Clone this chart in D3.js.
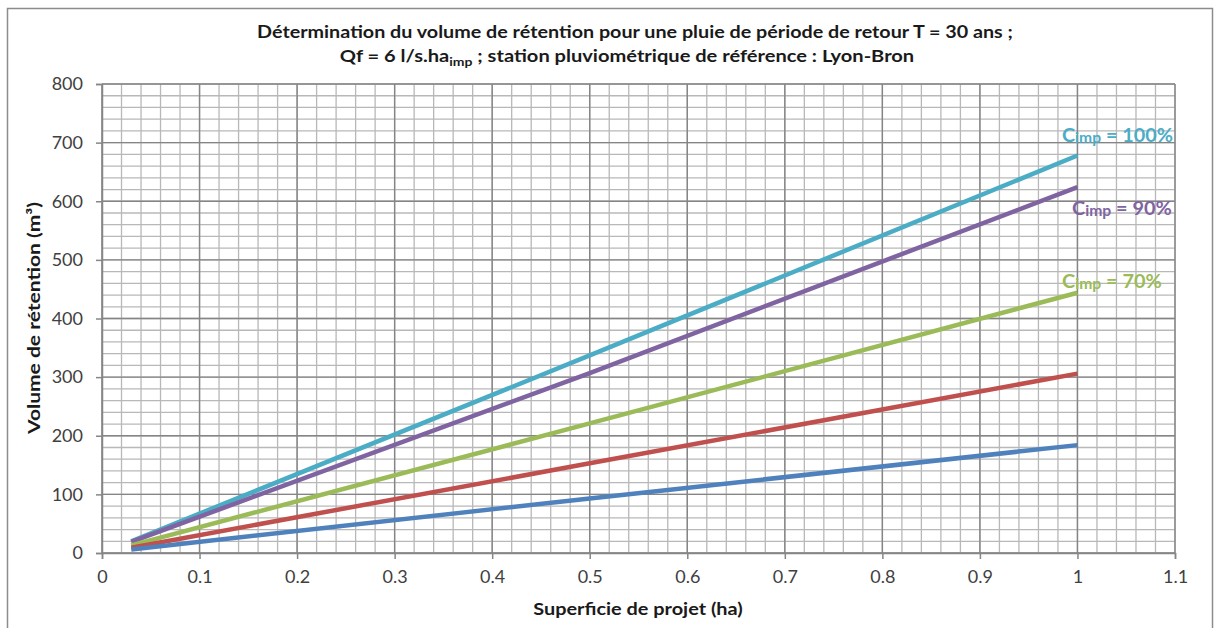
<!DOCTYPE html>
<html><head><meta charset="utf-8">
<script src="https://cdn.jsdelivr.net/npm/d3@7"></script>
<style>body{margin:0;background:#fff;} svg{display:block;}</style>
</head><body>
<svg id="chart" width="1216" height="628"></svg>
<script>
// Data
const xValues = [0.03, 0.5, 1];
const seriesNames = ["Cimp = 100%", "Cimp = 90%", "Cimp = 70%", "Cimp = 50%", "Cimp = 30%"];
const seriesColors = ["#4bacc6", "#8064a2", "#9bbb59", "#c0504d", "#4f81bd"];
const v100 = [20, 337, 678];
const v90 = [19, 307, 624];
const v70 = [13, 221, 444];
const v50 = [9, 153, 306];
const v30 = [6, 93, 184];
const seriesValues = [v100, v90, v70, v50, v30];
const labeledSeries = [0, 1, 2];
const xTicks = [0, 0.1, 0.2, 0.3, 0.4, 0.5, 0.6, 0.7, 0.8, 0.9, 1, 1.1];
const yTicks = [0, 100, 200, 300, 400, 500, 600, 700, 800];
const titleLine1 = "Détermination du volume de rétention pour une pluie de période de retour T = 30 ans ;";
const xTitle = "Superficie de projet (ha)";
const yTitle = "Volume de rétention (m³)";

const svg = d3.select("#chart");
const font = "Lato, 'Liberation Sans', sans-serif";
const L = 102, R = 1175, T = 84, B = 553;
const x = d3.scaleLinear().domain([0, 1.1]).range([L, R]);
const y = d3.scaleLinear().domain([0, 800]).range([B, T]);

// horizontally stretch a text element to a target width around its anchor x
function fitWidth(sel, cx, target) {
  const w = sel.node().getBBox().width;
  const s = target / w;
  sel.attr("transform", `translate(${cx},0) scale(${s},1) translate(${-cx},0)`);
}

// frame
svg.append("rect").attr("x", 7.5).attr("y", 8.5).attr("width", 1205).attr("height", 640)
  .attr("fill", "#fff").attr("stroke", "#8c8c8c").attr("stroke-width", 1.5);

// minor grid
const g = svg.append("g");
const minorX = d3.range(0, 1.1001, 0.02);
const minorY = d3.range(0, 800.1, 20);
g.selectAll(".mx").data(minorX).join("line")
  .attr("x1", d => x(d)).attr("x2", d => x(d)).attr("y1", T).attr("y2", B)
  .attr("stroke", "#b8b8b8").attr("stroke-width", 1.3);
g.selectAll(".my").data(minorY).join("line")
  .attr("y1", d => y(d)).attr("y2", d => y(d)).attr("x1", L).attr("x2", R)
  .attr("stroke", "#b8b8b8").attr("stroke-width", 1.3);
// major grid
g.selectAll(".Mx").data(xTicks).join("line")
  .attr("x1", d => x(d)).attr("x2", d => x(d)).attr("y1", T).attr("y2", B)
  .attr("stroke", "#858585").attr("stroke-width", 1.4);
g.selectAll(".My").data(yTicks).join("line")
  .attr("y1", d => y(d)).attr("y2", d => y(d)).attr("x1", L).attr("x2", R)
  .attr("stroke", "#858585").attr("stroke-width", 1.4);

// axes
const xAxis = svg.append("g").attr("transform", `translate(0,${B})`)
  .call(d3.axisBottom(x).tickValues(xTicks).tickFormat(d => d3.format("")(+d.toFixed(1))).tickSize(6).tickPadding(11));
const yAxis = svg.append("g").attr("transform", `translate(${L},0)`)
  .call(d3.axisLeft(y).tickValues(yTicks).tickSize(6).tickPadding(13));
[xAxis, yAxis].forEach(a => {
  a.select(".domain").attr("stroke", "#868686").attr("stroke-width", 1.5);
  a.selectAll(".tick line").attr("stroke", "#868686").attr("stroke-width", 1.5);
  a.selectAll("text").attr("font-family", font).attr("font-size", 18).attr("fill", "#404040");
});

// lines
const line = d3.line().x((d, i) => x(xValues[i])).y(d => y(d));
svg.append("g").selectAll("path").data(seriesValues).join("path")
  .attr("d", d => line(d)).attr("fill", "none")
  .attr("stroke", (d, i) => seriesColors[i]).attr("stroke-width", 4.5).attr("stroke-linecap", "butt");

// series labels
const labelPos = [[1062, 142, 111], [1072, 215, 100], [1062, 288, 100]];
labeledSeries.forEach((si, k) => {
  const t = svg.append("text").attr("x", labelPos[k][0]).attr("y", labelPos[k][1])
    .attr("font-family", font).attr("font-size", 19).attr("font-weight", "bold")
    .attr("fill", seriesColors[si]);
  const name = seriesNames[si];
  t.append("tspan").text(name.slice(0, 1));
  t.append("tspan").attr("font-size", 15).attr("dy", 1).text(name.slice(1, 4));
  t.append("tspan").attr("dy", -1).text(name.slice(4));
  fitWidth(t, labelPos[k][0], labelPos[k][2]);
});

// title
const t1 = svg.append("text").attr("x", 635).attr("y", 38).attr("text-anchor", "middle")
  .attr("font-family", font).attr("font-size", 16.5).attr("font-weight", "bold").attr("fill", "#1a1a1a")
  .text(titleLine1);
fitWidth(t1, 635, 756);
const t2 = svg.append("text").attr("x", 627).attr("y", 62).attr("text-anchor", "middle")
  .attr("font-family", font).attr("font-size", 16.5).attr("font-weight", "bold").attr("fill", "#1a1a1a");
t2.append("tspan").text("Qf = 6 l/s.ha");
t2.append("tspan").attr("font-size", 11.5).attr("dy", 4).text("imp");
t2.append("tspan").attr("dy", -4).text(" ; station pluviométrique de référence : Lyon-Bron");
fitWidth(t2, 627, 575);

// axis titles
const xt = svg.append("text").attr("x", 638).attr("y", 615).attr("text-anchor", "middle")
  .attr("font-family", font).attr("font-size", 17).attr("font-weight", "bold").attr("fill", "#1a1a1a")
  .text(xTitle);
fitWidth(xt, 638, 210);
svg.append("text").attr("transform", "translate(40,318) rotate(-90)").attr("text-anchor", "middle")
  .attr("font-family", font).attr("font-size", 17).attr("font-weight", "bold").attr("fill", "#1a1a1a")
  .attr("textLength", 232).attr("lengthAdjust", "spacingAndGlyphs")
  .text(yTitle);
</script>
</body></html>
